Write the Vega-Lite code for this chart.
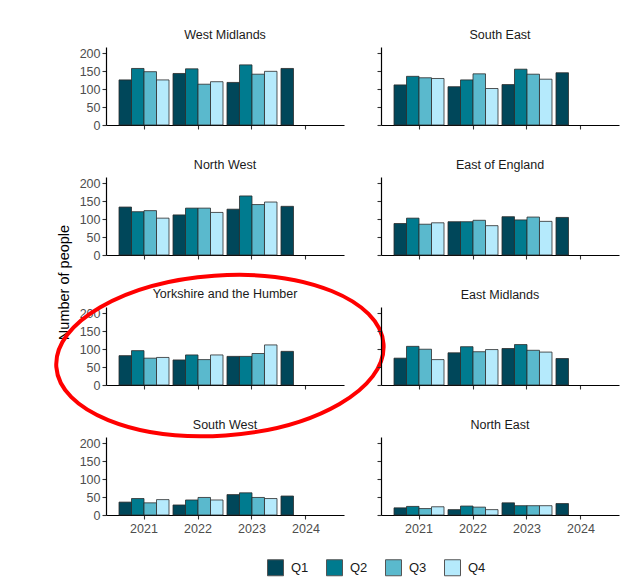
{
  "$schema": "https://vega.github.io/schema/vega-lite/v6.json",
  "padding": {"left": 48, "top": 28, "right": 4, "bottom": 10},
  "background": "white",
  "datasets": {
    "d": [
      {"region": "West Midlands", "year": "2021", "quarter": "Q1", "value": 126},
      {"region": "West Midlands", "year": "2021", "quarter": "Q2", "value": 158},
      {"region": "West Midlands", "year": "2021", "quarter": "Q3", "value": 149},
      {"region": "West Midlands", "year": "2021", "quarter": "Q4", "value": 126},
      {"region": "West Midlands", "year": "2022", "quarter": "Q1", "value": 144},
      {"region": "West Midlands", "year": "2022", "quarter": "Q2", "value": 157},
      {"region": "West Midlands", "year": "2022", "quarter": "Q3", "value": 114},
      {"region": "West Midlands", "year": "2022", "quarter": "Q4", "value": 121},
      {"region": "West Midlands", "year": "2023", "quarter": "Q1", "value": 119},
      {"region": "West Midlands", "year": "2023", "quarter": "Q2", "value": 168},
      {"region": "West Midlands", "year": "2023", "quarter": "Q3", "value": 142},
      {"region": "West Midlands", "year": "2023", "quarter": "Q4", "value": 150},
      {"region": "West Midlands", "year": "2024", "quarter": "Q1", "value": 158},
      {"region": "South East", "year": "2021", "quarter": "Q1", "value": 112},
      {"region": "South East", "year": "2021", "quarter": "Q2", "value": 136},
      {"region": "South East", "year": "2021", "quarter": "Q3", "value": 132},
      {"region": "South East", "year": "2021", "quarter": "Q4", "value": 130},
      {"region": "South East", "year": "2022", "quarter": "Q1", "value": 107},
      {"region": "South East", "year": "2022", "quarter": "Q2", "value": 126},
      {"region": "South East", "year": "2022", "quarter": "Q3", "value": 143},
      {"region": "South East", "year": "2022", "quarter": "Q4", "value": 102},
      {"region": "South East", "year": "2023", "quarter": "Q1", "value": 113},
      {"region": "South East", "year": "2023", "quarter": "Q2", "value": 156},
      {"region": "South East", "year": "2023", "quarter": "Q3", "value": 142},
      {"region": "South East", "year": "2023", "quarter": "Q4", "value": 128},
      {"region": "South East", "year": "2024", "quarter": "Q1", "value": 146},
      {"region": "North West", "year": "2021", "quarter": "Q1", "value": 134},
      {"region": "North West", "year": "2021", "quarter": "Q2", "value": 121},
      {"region": "North West", "year": "2021", "quarter": "Q3", "value": 124},
      {"region": "North West", "year": "2021", "quarter": "Q4", "value": 103},
      {"region": "North West", "year": "2022", "quarter": "Q1", "value": 112},
      {"region": "North West", "year": "2022", "quarter": "Q2", "value": 131},
      {"region": "North West", "year": "2022", "quarter": "Q3", "value": 131},
      {"region": "North West", "year": "2022", "quarter": "Q4", "value": 119},
      {"region": "North West", "year": "2023", "quarter": "Q1", "value": 128},
      {"region": "North West", "year": "2023", "quarter": "Q2", "value": 165},
      {"region": "North West", "year": "2023", "quarter": "Q3", "value": 141},
      {"region": "North West", "year": "2023", "quarter": "Q4", "value": 148},
      {"region": "North West", "year": "2024", "quarter": "Q1", "value": 136},
      {"region": "East of England", "year": "2021", "quarter": "Q1", "value": 88},
      {"region": "East of England", "year": "2021", "quarter": "Q2", "value": 103},
      {"region": "East of England", "year": "2021", "quarter": "Q3", "value": 86},
      {"region": "East of England", "year": "2021", "quarter": "Q4", "value": 90},
      {"region": "East of England", "year": "2022", "quarter": "Q1", "value": 93},
      {"region": "East of England", "year": "2022", "quarter": "Q2", "value": 93},
      {"region": "East of England", "year": "2022", "quarter": "Q3", "value": 97},
      {"region": "East of England", "year": "2022", "quarter": "Q4", "value": 82},
      {"region": "East of England", "year": "2023", "quarter": "Q1", "value": 107},
      {"region": "East of England", "year": "2023", "quarter": "Q2", "value": 98},
      {"region": "East of England", "year": "2023", "quarter": "Q3", "value": 106},
      {"region": "East of England", "year": "2023", "quarter": "Q4", "value": 94},
      {"region": "East of England", "year": "2024", "quarter": "Q1", "value": 105},
      {"region": "Yorkshire and the Humber", "year": "2021", "quarter": "Q1", "value": 82},
      {"region": "Yorkshire and the Humber", "year": "2021", "quarter": "Q2", "value": 96},
      {"region": "Yorkshire and the Humber", "year": "2021", "quarter": "Q3", "value": 75},
      {"region": "Yorkshire and the Humber", "year": "2021", "quarter": "Q4", "value": 77},
      {"region": "Yorkshire and the Humber", "year": "2022", "quarter": "Q1", "value": 70},
      {"region": "Yorkshire and the Humber", "year": "2022", "quarter": "Q2", "value": 84},
      {"region": "Yorkshire and the Humber", "year": "2022", "quarter": "Q3", "value": 71},
      {"region": "Yorkshire and the Humber", "year": "2022", "quarter": "Q4", "value": 84},
      {"region": "Yorkshire and the Humber", "year": "2023", "quarter": "Q1", "value": 80},
      {"region": "Yorkshire and the Humber", "year": "2023", "quarter": "Q2", "value": 80},
      {"region": "Yorkshire and the Humber", "year": "2023", "quarter": "Q3", "value": 88},
      {"region": "Yorkshire and the Humber", "year": "2023", "quarter": "Q4", "value": 112},
      {"region": "Yorkshire and the Humber", "year": "2024", "quarter": "Q1", "value": 94},
      {"region": "East Midlands", "year": "2021", "quarter": "Q1", "value": 75},
      {"region": "East Midlands", "year": "2021", "quarter": "Q2", "value": 108},
      {"region": "East Midlands", "year": "2021", "quarter": "Q3", "value": 100},
      {"region": "East Midlands", "year": "2021", "quarter": "Q4", "value": 71},
      {"region": "East Midlands", "year": "2022", "quarter": "Q1", "value": 90},
      {"region": "East Midlands", "year": "2022", "quarter": "Q2", "value": 107},
      {"region": "East Midlands", "year": "2022", "quarter": "Q3", "value": 93},
      {"region": "East Midlands", "year": "2022", "quarter": "Q4", "value": 99},
      {"region": "East Midlands", "year": "2023", "quarter": "Q1", "value": 102},
      {"region": "East Midlands", "year": "2023", "quarter": "Q2", "value": 113},
      {"region": "East Midlands", "year": "2023", "quarter": "Q3", "value": 97},
      {"region": "East Midlands", "year": "2023", "quarter": "Q4", "value": 92},
      {"region": "East Midlands", "year": "2024", "quarter": "Q1", "value": 74},
      {"region": "South West", "year": "2021", "quarter": "Q1", "value": 36},
      {"region": "South West", "year": "2021", "quarter": "Q2", "value": 46},
      {"region": "South West", "year": "2021", "quarter": "Q3", "value": 34},
      {"region": "South West", "year": "2021", "quarter": "Q4", "value": 43},
      {"region": "South West", "year": "2022", "quarter": "Q1", "value": 28},
      {"region": "South West", "year": "2022", "quarter": "Q2", "value": 42},
      {"region": "South West", "year": "2022", "quarter": "Q3", "value": 49},
      {"region": "South West", "year": "2022", "quarter": "Q4", "value": 42},
      {"region": "South West", "year": "2023", "quarter": "Q1", "value": 57},
      {"region": "South West", "year": "2023", "quarter": "Q2", "value": 62},
      {"region": "South West", "year": "2023", "quarter": "Q3", "value": 49},
      {"region": "South West", "year": "2023", "quarter": "Q4", "value": 46},
      {"region": "South West", "year": "2024", "quarter": "Q1", "value": 53},
      {"region": "North East", "year": "2021", "quarter": "Q1", "value": 20},
      {"region": "North East", "year": "2021", "quarter": "Q2", "value": 24},
      {"region": "North East", "year": "2021", "quarter": "Q3", "value": 18},
      {"region": "North East", "year": "2021", "quarter": "Q4", "value": 23},
      {"region": "North East", "year": "2022", "quarter": "Q1", "value": 15},
      {"region": "North East", "year": "2022", "quarter": "Q2", "value": 25},
      {"region": "North East", "year": "2022", "quarter": "Q3", "value": 22},
      {"region": "North East", "year": "2022", "quarter": "Q4", "value": 15},
      {"region": "North East", "year": "2023", "quarter": "Q1", "value": 34},
      {"region": "North East", "year": "2023", "quarter": "Q2", "value": 26},
      {"region": "North East", "year": "2023", "quarter": "Q3", "value": 26},
      {"region": "North East", "year": "2023", "quarter": "Q4", "value": 26},
      {"region": "North East", "year": "2024", "quarter": "Q1", "value": 32}
    ],
    "ann": [{"year": "2022", "value": 78}]
  },
  "data": {"name": "d"},
  "config": {
    "font": "Liberation Sans",
    "view": {"stroke": null},
    "axis": {"domainColor": "#000000", "domainWidth": 1.2, "tickColor": "#333333", "tickWidth": 1.1, "tickSize": 4, "labelColor": "#4d4d4d", "labelFontSize": 12.5, "labelPadding": 2, "grid": false, "labelOverlap": false},
    "axisX": {"labelAngle": 0, "labelPadding": 3},
    "title": {"fontSize": 12.5, "fontWeight": "normal", "color": "#1a1a1a", "offset": 6, "anchor": "middle", "frame": "group"},
    "legend": {"orient": "none", "legendX": 161, "legendY": 512, "direction": "horizontal", "title": null, "symbolType": "square", "symbolSize": 256, "symbolStrokeColor": "#555555", "symbolStrokeWidth": 1, "labelFontSize": 13, "labelColor": "#1a1a1a", "columnPadding": 15, "labelOffset": 7}
  },
  "columns": 2,
  "spacing": {"row": 52, "column": 37},
  "bounds": "flush",
  "concat": [
      {"width": 238, "height": 78, "title": "West Midlands", "transform": [{"filter": "datum.region === 'West Midlands'"}],
       "mark": {"type": "bar", "stroke": "#2b2b2b", "strokeWidth": 0.8},
       "encoding": {
         "x": {"field": "year", "type": "ordinal", "scale": {"domain": ["2021", "2022", "2023", "2024"], "paddingInner": 0.074, "paddingOuter": 0.241}, "axis": {"labels": false, "title": null}},
         "xOffset": {"field": "quarter", "scale": {"domain": ["Q1", "Q2", "Q3", "Q4"], "paddingInner": 0, "paddingOuter": 0}},
         "y": {"field": "value", "type": "quantitative", "scale": {"domain": [0, 218], "nice": false}, "axis": {"values": [0, 50, 100, 150, 200], "title": null}},
         "color": {"field": "quarter", "scale": {"domain": ["Q1", "Q2", "Q3", "Q4"], "range": ["#00475a", "#007b8f", "#5ab9cd", "#b5eafc"]}}
       }},
      {"width": 238, "height": 78, "title": "South East", "transform": [{"filter": "datum.region === 'South East'"}],
       "mark": {"type": "bar", "stroke": "#2b2b2b", "strokeWidth": 0.8},
       "encoding": {
         "x": {"field": "year", "type": "ordinal", "scale": {"domain": ["2021", "2022", "2023", "2024"], "paddingInner": 0.074, "paddingOuter": 0.241}, "axis": {"labels": false, "title": null}},
         "xOffset": {"field": "quarter", "scale": {"domain": ["Q1", "Q2", "Q3", "Q4"], "paddingInner": 0, "paddingOuter": 0}},
         "y": {"field": "value", "type": "quantitative", "scale": {"domain": [0, 218], "nice": false}, "axis": {"values": [0, 50, 100, 150, 200], "labels": false, "title": null}},
         "color": {"field": "quarter", "scale": {"domain": ["Q1", "Q2", "Q3", "Q4"], "range": ["#00475a", "#007b8f", "#5ab9cd", "#b5eafc"]}}
       }},
      {"width": 238, "height": 78, "title": "North West", "transform": [{"filter": "datum.region === 'North West'"}],
       "mark": {"type": "bar", "stroke": "#2b2b2b", "strokeWidth": 0.8},
       "encoding": {
         "x": {"field": "year", "type": "ordinal", "scale": {"domain": ["2021", "2022", "2023", "2024"], "paddingInner": 0.074, "paddingOuter": 0.241}, "axis": {"labels": false, "title": null}},
         "xOffset": {"field": "quarter", "scale": {"domain": ["Q1", "Q2", "Q3", "Q4"], "paddingInner": 0, "paddingOuter": 0}},
         "y": {"field": "value", "type": "quantitative", "scale": {"domain": [0, 218], "nice": false}, "axis": {"values": [0, 50, 100, 150, 200], "title": "Number of people", "titleFontSize": 14.5, "titleFontWeight": "normal", "titleColor": "#000000", "titleX": -42, "titleY": 105, "titleAlign": "center", "titleBaseline": "middle", "titleAngle": 270}},
         "color": {"field": "quarter", "scale": {"domain": ["Q1", "Q2", "Q3", "Q4"], "range": ["#00475a", "#007b8f", "#5ab9cd", "#b5eafc"]}}
       }},
      {"width": 238, "height": 78, "title": "East of England", "transform": [{"filter": "datum.region === 'East of England'"}],
       "mark": {"type": "bar", "stroke": "#2b2b2b", "strokeWidth": 0.8},
       "encoding": {
         "x": {"field": "year", "type": "ordinal", "scale": {"domain": ["2021", "2022", "2023", "2024"], "paddingInner": 0.074, "paddingOuter": 0.241}, "axis": {"labels": false, "title": null}},
         "xOffset": {"field": "quarter", "scale": {"domain": ["Q1", "Q2", "Q3", "Q4"], "paddingInner": 0, "paddingOuter": 0}},
         "y": {"field": "value", "type": "quantitative", "scale": {"domain": [0, 218], "nice": false}, "axis": {"values": [0, 50, 100, 150, 200], "labels": false, "title": null}},
         "color": {"field": "quarter", "scale": {"domain": ["Q1", "Q2", "Q3", "Q4"], "range": ["#00475a", "#007b8f", "#5ab9cd", "#b5eafc"]}}
       }},
      {"width": 238, "height": 78, "title": {"text": "Yorkshire and the Humber", "offset": -34},
       "layer": [
         {"transform": [{"filter": "datum.region === 'Yorkshire and the Humber'"}],
          "mark": {"type": "bar", "stroke": "#2b2b2b", "strokeWidth": 0.8},
          "encoding": {
            "x": {"field": "year", "type": "ordinal", "scale": {"domain": ["2021", "2022", "2023", "2024"], "paddingInner": 0.074, "paddingOuter": 0.241}, "axis": {"labels": false, "title": null}},
            "xOffset": {"field": "quarter", "scale": {"domain": ["Q1", "Q2", "Q3", "Q4"], "paddingInner": 0, "paddingOuter": 0}},
            "y": {"field": "value", "type": "quantitative", "scale": {"domain": [0, 218], "nice": false}, "axis": {"values": [0, 50, 100, 150, 200], "title": null}},
            "color": {"field": "quarter", "scale": {"domain": ["Q1", "Q2", "Q3", "Q4"], "range": ["#00475a", "#007b8f", "#5ab9cd", "#b5eafc"]}}
          }},
         {"data": {"name": "ann"},
          "mark": {"type": "point", "shape": "M-0.866,0A1,0.488,0,1,1,1.134,0A1,0.488,0,1,1,-0.866,0Z", "size": 107584, "filled": false, "color": "#ff0000", "strokeWidth": 4, "opacity": 1, "angle": -4},
          "encoding": {
            "x": {"field": "year", "type": "ordinal", "axis": {"labels": false, "title": null}},
            "y": {"field": "value", "type": "quantitative", "axis": {"values": [0, 50, 100, 150, 200], "title": null}}
          }}
       ]},
      {"width": 238, "height": 78, "title": "East Midlands", "transform": [{"filter": "datum.region === 'East Midlands'"}],
       "mark": {"type": "bar", "stroke": "#2b2b2b", "strokeWidth": 0.8},
       "encoding": {
         "x": {"field": "year", "type": "ordinal", "scale": {"domain": ["2021", "2022", "2023", "2024"], "paddingInner": 0.074, "paddingOuter": 0.241}, "axis": {"labels": false, "title": null}},
         "xOffset": {"field": "quarter", "scale": {"domain": ["Q1", "Q2", "Q3", "Q4"], "paddingInner": 0, "paddingOuter": 0}},
         "y": {"field": "value", "type": "quantitative", "scale": {"domain": [0, 218], "nice": false}, "axis": {"values": [0, 50, 100, 150, 200], "labels": false, "title": null}},
         "color": {"field": "quarter", "scale": {"domain": ["Q1", "Q2", "Q3", "Q4"], "range": ["#00475a", "#007b8f", "#5ab9cd", "#b5eafc"]}}
       }},
      {"width": 238, "height": 78, "title": "South West", "transform": [{"filter": "datum.region === 'South West'"}],
       "mark": {"type": "bar", "stroke": "#2b2b2b", "strokeWidth": 0.8},
       "encoding": {
         "x": {"field": "year", "type": "ordinal", "scale": {"domain": ["2021", "2022", "2023", "2024"], "paddingInner": 0.074, "paddingOuter": 0.241}, "axis": {"title": null}},
         "xOffset": {"field": "quarter", "scale": {"domain": ["Q1", "Q2", "Q3", "Q4"], "paddingInner": 0, "paddingOuter": 0}},
         "y": {"field": "value", "type": "quantitative", "scale": {"domain": [0, 218], "nice": false}, "axis": {"values": [0, 50, 100, 150, 200], "title": null}},
         "color": {"field": "quarter", "scale": {"domain": ["Q1", "Q2", "Q3", "Q4"], "range": ["#00475a", "#007b8f", "#5ab9cd", "#b5eafc"]}}
       }},
      {"width": 238, "height": 78, "title": "North East", "transform": [{"filter": "datum.region === 'North East'"}],
       "mark": {"type": "bar", "stroke": "#2b2b2b", "strokeWidth": 0.8},
       "encoding": {
         "x": {"field": "year", "type": "ordinal", "scale": {"domain": ["2021", "2022", "2023", "2024"], "paddingInner": 0.074, "paddingOuter": 0.241}, "axis": {"title": null}},
         "xOffset": {"field": "quarter", "scale": {"domain": ["Q1", "Q2", "Q3", "Q4"], "paddingInner": 0, "paddingOuter": 0}},
         "y": {"field": "value", "type": "quantitative", "scale": {"domain": [0, 218], "nice": false}, "axis": {"values": [0, 50, 100, 150, 200], "labels": false, "title": null}},
         "color": {"field": "quarter", "scale": {"domain": ["Q1", "Q2", "Q3", "Q4"], "range": ["#00475a", "#007b8f", "#5ab9cd", "#b5eafc"]}}
       }}
  ]
}
